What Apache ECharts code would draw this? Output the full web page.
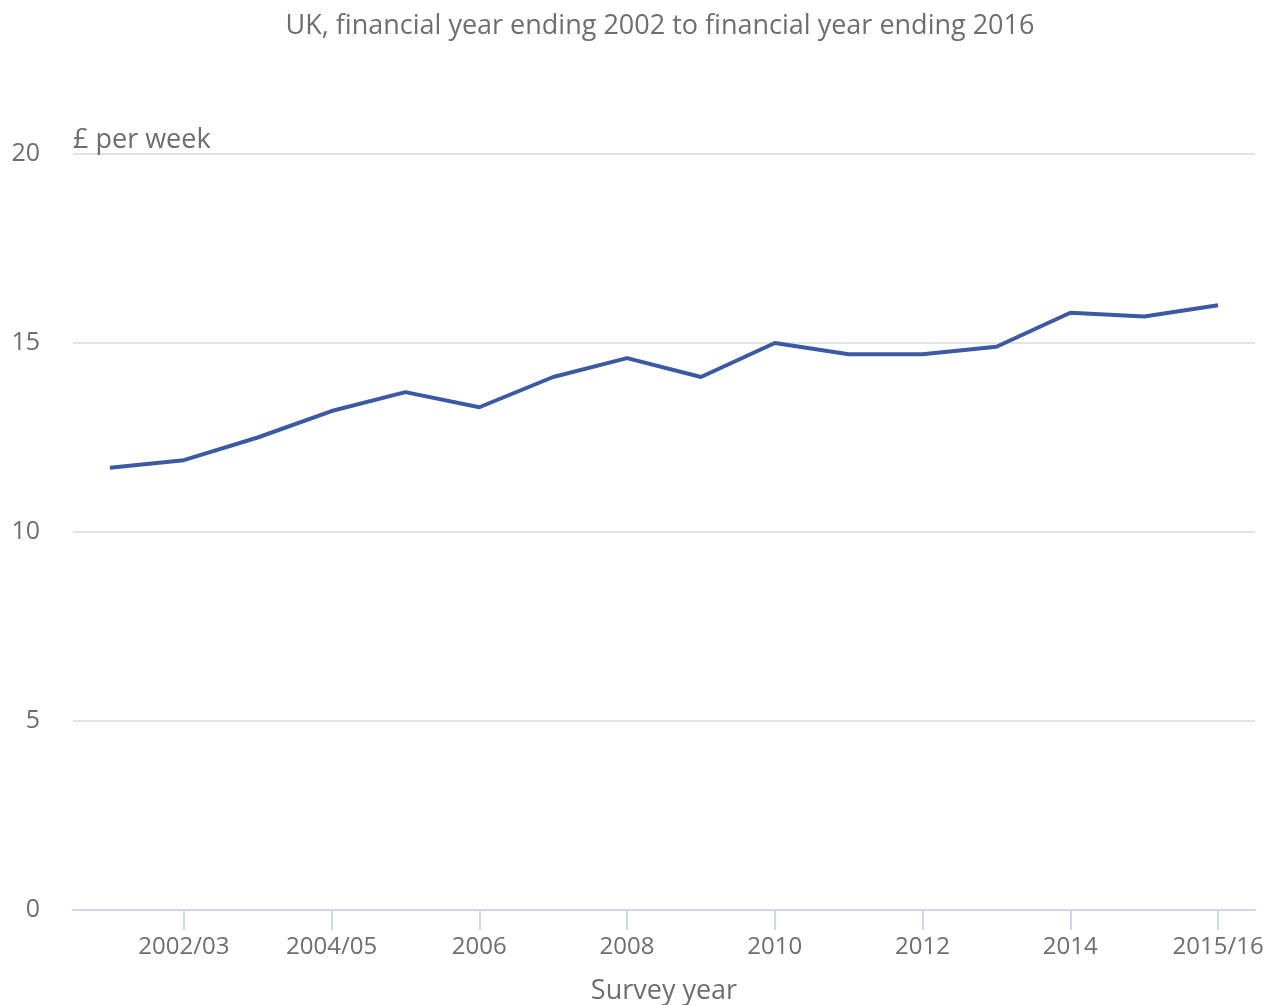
<!DOCTYPE html>
<html>
<head>
<meta charset="utf-8">
<script src="https://cdn.jsdelivr.net/npm/echarts@6/dist/echarts.min.js"></script>
<style>
  html, body { margin: 0; padding: 0; background: #fff; }
  #chart { width: 1272px; height: 1005px; }
</style>
</head>
<body>
<div id="chart"></div>
<script>
// Survey years (financial years, then calendar years, then financial years again)
const surveyYears = [
  '2001/02', '2002/03', '2003/04', '2004/05', '2005/06',
  '2006', '2007', '2008', '2009', '2010', '2011', '2012', '2013', '2014',
  '2014/15', '2015/16'
];
// Average weekly spending, £ per week
const spending = [
  11.7, 11.9, 12.5, 13.2, 13.7,
  13.3, 14.1, 14.6, 14.1, 15.0, 14.7, 14.7, 14.9, 15.8,
  15.7, 16.0
];
const yTicks = [0, 5, 10, 15, 20];

const textColor = '#6e6e6e';
const fontFamily = '"Open Sans", "Noto Sans", sans-serif';

const chart = echarts.init(document.getElementById('chart'), null, { renderer: 'canvas' });

const everyOther = (idx) => idx % 2 === 1;

chart.setOption({
  animation: false,
  textStyle: { fontFamily: fontFamily },
  title: {
    text: 'UK, financial year ending 2002 to financial year ending 2016',
    left: 655,
    top: 8,
    textAlign: 'center',
    textStyle: { color: textColor, fontSize: 27, fontWeight: 'normal', fontFamily: fontFamily }
  },
  grid: { left: 73, right: 17, top: 154, bottom: 95, containLabel: false, outerBoundsMode: 'none' },
  xAxis: {
    type: 'category',
    data: surveyYears,
    boundaryGap: true,
    name: 'Survey year',
    nameLocation: 'middle',
    nameGap: 68,
    nameTextStyle: { color: textColor, fontSize: 27, fontFamily: fontFamily },
    axisLine: { show: true, lineStyle: { color: '#cfd7eb', width: 2 } },
    axisTick: { show: true, alignWithLabel: true, interval: everyOther, length: 20, lineStyle: { color: '#cfd7eb', width: 2 } },
    axisLabel: { interval: everyOther, color: textColor, fontSize: 24, margin: 25, fontFamily: fontFamily },
    splitLine: { show: false }
  },
  yAxis: {
    type: 'value',
    min: yTicks[0],
    max: yTicks[yTicks.length - 1],
    interval: yTicks[1] - yTicks[0],
    name: '£ per week',
    nameLocation: 'end',
    nameGap: 0,
    nameTextStyle: { color: textColor, fontSize: 27, align: 'left', verticalAlign: 'bottom', fontFamily: fontFamily },
    axisLine: { show: false },
    axisTick: { show: false },
    axisLabel: { color: textColor, fontSize: 25, margin: 33, padding: [7, 0, 0, 0], fontFamily: fontFamily },
    splitLine: { show: true, lineStyle: { color: '#e3e3e3', width: 2 } }
  },
  series: [{
    type: 'line',
    data: spending,
    symbol: 'none',
    lineStyle: { color: '#3c5aa3', width: 4 },
    itemStyle: { color: '#3c5aa3' },
    z: 3
  }]
});
</script>
</body>
</html>
